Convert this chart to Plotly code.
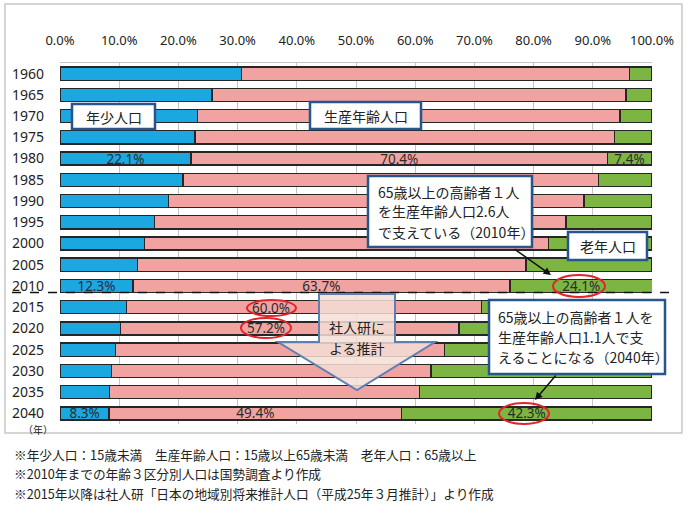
import plotly.graph_objects as go

years = ["1960", "1965", "1970", "1975", "1980", "1985", "1990", "1995", "2000",
         "2005", "2010", "2015", "2020", "2025", "2030", "2035", "2040"]
young = [30.7, 25.7, 23.2, 22.8, 22.1, 20.8, 18.3, 16.0, 14.3, 13.1, 12.3, 11.2, 10.2, 9.4, 8.7, 8.4, 8.3]
working = [65.5, 69.9, 71.4, 70.9, 70.4, 70.2, 70.2, 69.5, 68.2, 65.6, 63.7, 60.0, 57.2, 55.5, 54.0, 52.3, 49.4]
old = [3.8, 4.4, 5.4, 6.3, 7.4, 9.0, 11.5, 14.5, 17.5, 21.3, 24.1, 28.8, 32.6, 35.1, 37.3, 39.3, 42.3]
labeled_years = ["1980", "2010", "2040"]
x_ticks = [0, 10, 20, 30, 40, 50, 60, 70, 80, 90, 100]
x_ticktext = [f"{v:.1f}%" for v in x_ticks]

FONT = "Noto Sans CJK JP, Noto Sans, sans-serif"
NUMFONT = "Noto Sans, sans-serif"

# plot-area pixel geometry (for overlay placement)
L, R, T, B = 60, 652, 63, 424


def px(x):
    return (x - L) / (R - L)


def py(y):
    return (B - y) / (B - T)


def lab(vals):
    return [f"{v:.1f}%" if y in labeled_years else "" for v, y in zip(vals, years)]


idx = list(range(len(years)))
fig = go.Figure()
for name, vals, col in [("年少人口", young, "#1ba7e0"),
                        ("生産年齢人口", working, "#f0a3a1"),
                        ("老年人口", old, "#7db543")]:
    fig.add_trace(go.Bar(
        y=idx, x=vals, orientation="h", name=name, width=0.62,
        marker=dict(color=col, line=dict(color="#262626", width=1.4)),
        text=lab(vals), textposition="inside", insidetextanchor="middle",
        constraintext="none",
        textfont=dict(family=NUMFONT, size=13.5, color="#2b2b2b"),
        hoverinfo="skip", showlegend=False))

shapes = []
annos = []

# outer frame
shapes.append(dict(type="rect", xref="paper", yref="paper", x0=px(5), x1=px(682),
                   y0=py(433), y1=py(4), line=dict(color="#c8c8c8", width=1.5),
                   fillcolor="rgba(0,0,0,0)", layer="below"))

# dashed separator between 2010 and 2015
shapes.append(dict(type="line", xref="paper", yref="paper", x0=px(12), x1=px(673),
                   y0=py(292.5), y1=py(292.5), line=dict(color="#111", width=1.5, dash="dash")))

# block arrow 社人研による推計
pts = [(319, 294), (395, 294), (395, 342), (435, 342), (357, 390), (278, 342), (319, 342)]
path = "M " + " L ".join(f"{px(a):.5f},{py(b):.5f}" for a, b in pts) + " Z"
shapes.append(dict(type="path", xref="paper", yref="paper", path=path,
                   fillcolor="rgba(243,222,214,0.85)", line=dict(color="#5f7fb2", width=2)))
annos.append(dict(text="社人研に", x=px(357), y=py(326.5)))
annos.append(dict(text="よる推計", x=px(357), y=py(348)))

# text boxes
BOXC = "#27568a"
boxes = [(72, 155, 104, 129), (310, 421, 102, 129), (368, 532, 176, 247),
         (568, 647, 232, 260), (489, 665, 300, 374)]
for x0, x1, y0, y1 in boxes:
    shapes.append(dict(type="rect", xref="paper", yref="paper", x0=px(x0), x1=px(x1),
                       y0=py(y1), y1=py(y0), fillcolor="white", line=dict(color=BOXC, width=2.5)))
annos.append(dict(text="年少人口", x=px(113.5), y=py(116.5)))
annos.append(dict(text="生産年齢人口", x=px(365.5), y=py(115.5)))
annos.append(dict(text="老年人口", x=px(607.5), y=py(246)))
for i, t in enumerate(["65歳以上の高齢者１人", "を生産年齢人口2.6人", "で支えている（2010年）"]):
    annos.append(dict(text=t, x=px(376), y=py(191.5 + 20 * i), xanchor="left"))
for i, t in enumerate(["65歳以上の高齢者１人を", "生産年齢人口1.1人で支", "えることになる（2040年）"]):
    annos.append(dict(text=t, x=px(496), y=py(316.5 + 20 * i), xanchor="left"))

# red ellipses
for x0, x1, y0, y1 in [(247, 296, 300, 316), (241, 291, 318, 338),
                       (553, 605, 275, 297), (499, 549, 403, 424)]:
    shapes.append(dict(type="circle", xref="paper", yref="paper", x0=px(x0), x1=px(x1),
                       y0=py(y1), y1=py(y0), line=dict(color="#e2232b", width=2)))

# off-centre labels
annos.append(dict(text=f"{working[11]:.1f}%", x=px(271), y=py(308), font=dict(family=NUMFONT, size=13.5, color="#2b2b2b")))
annos.append(dict(text=f"{working[12]:.1f}%", x=px(266), y=py(328), font=dict(family=NUMFONT, size=13.5, color="#2b2b2b")))

# arrows
annos.append(dict(text="", x=px(551), y=py(275), ax=513 - 551, ay=248 - 275, showarrow=True,
                  arrowhead=2, arrowsize=1, arrowwidth=1.5, arrowcolor="#111"))
annos.append(dict(text="", x=px(535), y=py(400), ax=557 - 535, ay=374 - 400, showarrow=True,
                  arrowhead=2, arrowsize=1, arrowwidth=1.5, arrowcolor="#111"))

# (年)
annos.append(dict(text="（年）", x=px(38), y=py(429.5), font=dict(family=FONT, size=10, color="#222")))

# footnotes
notes = ["※年少人口：15歳未満　生産年齢人口：15歳以上65歳未満　老年人口：65歳以上",
         "※2010年までの年齢３区分別人口は国勢調査より作成",
         "※2015年以降は社人研「日本の地域別将来推計人口（平成25年３月推計）」より作成"]
for i, t in enumerate(notes):
    annos.append(dict(text=t, x=px(12), y=py(454 + 19.5 * i), xanchor="left",
                      font=dict(family=FONT, size=12.7, color="#222")))

for a in annos:
    a.setdefault("xref", "paper")
    a.setdefault("yref", "paper")
    a.setdefault("showarrow", False)
    a.setdefault("font", dict(family=FONT, size=14, color="#222"))
    a.setdefault("xanchor", "center")
    a.setdefault("yanchor", "middle")

fig.update_layout(
    width=690, height=514, barmode="stack",
    margin=dict(l=L, r=690 - R, t=T, b=514 - B, autoexpand=False),
    paper_bgcolor="white", plot_bgcolor="white",
    shapes=shapes, annotations=annos,
    xaxis=dict(side="top", range=[0, 100], tickvals=x_ticks, ticktext=x_ticktext,
               showgrid=True, gridcolor="#c4c4c4", gridwidth=1, zeroline=False,
               showline=True, linecolor="#c4c4c4", linewidth=1, ticks="",
               ticklabelstandoff=12, automargin=False,
               tickfont=dict(family=NUMFONT, size=13, color="#222"), fixedrange=True),
    yaxis=dict(range=[16.5, -0.5], tickvals=idx, ticktext=years, showgrid=False,
               zeroline=False, showline=False, ticks="", ticklabelstandoff=15,
               automargin=False, tickfont=dict(family=NUMFONT, size=14, color="#222"),
               fixedrange=True),
)

fig.write_html("out.html", config={"displayModeBar": False},
               post_script="document.body.style.margin='0';document.body.style.overflow='hidden';")
